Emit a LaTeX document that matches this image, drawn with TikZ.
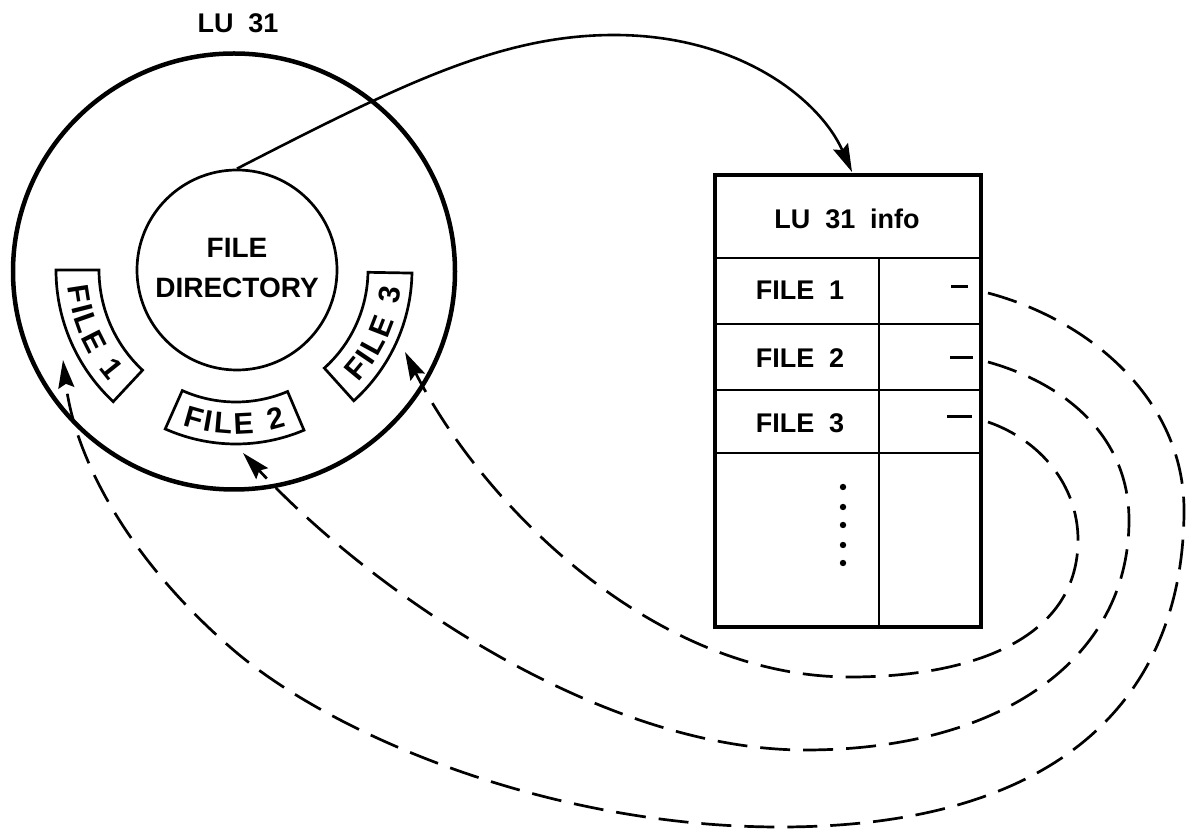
\documentclass[tikz,border=0pt]{standalone}
\usepackage{fontspec}
\setmainfont{Liberation Sans}
\usetikzlibrary{arrows.meta,decorations.text}
\newcommand\lbl{\bfseries\fontsize{27}{32}\selectfont}
\newcommand\bandlbl{\bfseries\fontsize{30}{34}\selectfont}
\newcommand\dirlbl{\bfseries\fontsize{28}{32}\selectfont}
\newcommand\wsp{\hspace{0.55em}}
\newcommand\ltr{\kern2.5pt}
\begin{document}
\begin{tikzpicture}[x=1pt,y=1pt,
  rim/.style={line width=4.5pt},
  wall/.style={line width=2.7pt},
  grid/.style={line width=2.6pt},
  tipend/.style={-{Stealth[length=28pt,width=16pt,inset=4pt]}},
  link/.style={line width=2.6pt, tipend},
  ptr/.style={line width=2.7pt, dash pattern=on 30pt off 13pt, tipend},
  lab/.style={font=\lbl, inner sep=0pt, anchor=base},
  bandtext/.style={decorate, decoration={text along path, text align=center, text={|\bandlbl|#1}}}
]
\useasboundingbox (0,0) rectangle (1188,830);

% ---- logical unit: disk with directory and file areas ----
\node[lab] (lu) at (238,797) {LU\wsp 31};
\draw[rim] (234,558.5) ellipse [x radius=221, y radius=218];
\node[draw, circle, wall, minimum size=200pt, inner sep=0pt] (dir) at (237,560) {};
\node[lab, font=\dirlbl] (dirA) at (237,572) {FILE};
\node[lab, font=\dirlbl] (dirB) at (237,532) {DIRECTORY};

\begin{scope}[shift={(236,560)}]
  % FILE 1 area
  \draw[wall] (180:180) arc[start angle=180,end angle=227,radius=180]
     -- (227:137) arc[start angle=227,end angle=180,radius=137] -- cycle;
  \path[bandtext={F{\ltr}I{\ltr}L{\ltr}E{\wsp}1}] (180:169) arc[start angle=180,end angle=227,radius=169];
  % FILE 2 area
  \draw[wall] (246:174) arc[start angle=246,end angle=293,radius=174]
     -- (293:132) arc[start angle=293,end angle=246,radius=132] -- cycle;
  \path[bandtext={F{\ltr}I{\ltr}L{\ltr}E{\wsp}2}] (246:164) arc[start angle=246,end angle=293,radius=164];
  % FILE 3 area
  \draw[wall] (312:176) arc[start angle=312,end angle=359,radius=176]
     -- (359:132) arc[start angle=359,end angle=312,radius=132] -- cycle;
  \path[bandtext={F{\ltr}I{\ltr}L{\ltr}E{\wsp}3}] (312:166) arc[start angle=312,end angle=359,radius=166];
\end{scope}

% ---- LU information table ----
\draw[rim] (715,203) rectangle (981,655);
\draw[grid] (715,572) -- (981,572);
\draw[grid] (715,506) -- (981,506);
\draw[grid] (715,440) -- (981,440);
\draw[grid] (715,377) -- (981,377);
\draw[grid] (879,572) -- (879,203);

\node[lab] (hdr) at (847,601) {LU\wsp 31\wsp info};
\node[lab] (e1) at (800,530) {FILE\wsp 1};
\node[lab] (e2) at (800,462) {FILE\wsp 2};
\node[lab] (e3) at (800,397) {FILE\wsp 3};

\draw[line width=3pt] (951,543) -- (968,543);
\draw[line width=3pt] (950,472) -- (973,472);
\draw[line width=3pt] (947,413) -- (972,413);

\foreach \yy in {343,323,305,285,267} \fill (843,\yy) circle (3.2);

% ---- directory -> table link ----
\coordinate (tabtop) at (852,658);
\draw[link] (dir.north) .. controls (400,745) and (500,795) .. (614,795)
   .. controls (740,795) and (820,730) .. (tabtop);

% ---- table entries -> file areas ----
\coordinate (s1) at (988,537);
\coordinate (s2) at (988,468);
\coordinate (s3) at (988,408);
\coordinate (f1) at (63,470);
\coordinate (f2) at (243,377);
\coordinate (f3) at (405,478);

\draw[ptr] (s1) .. controls (1090,510) and (1184,430) .. (1184,320)
   .. controls (1184,150) and (1080,3) .. (780,3)
   .. controls (550,3) and (330,95) .. (230,183)
   .. controls (130,270) and (75,370) .. (f1);

\draw[ptr] (s2) .. controls (1070,445) and (1129,390) .. (1129,310)
   .. controls (1129,170) and (1000,80) .. (805,80)
   .. controls (600,80) and (370,240) .. (f2);

\draw[ptr] (s3) .. controls (1040,390) and (1078,345) .. (1078,290)
   .. controls (1078,190) and (970,153) .. (850,153)
   .. controls (650,153) and (480,330) .. (f3);
\end{tikzpicture}
\end{document}
